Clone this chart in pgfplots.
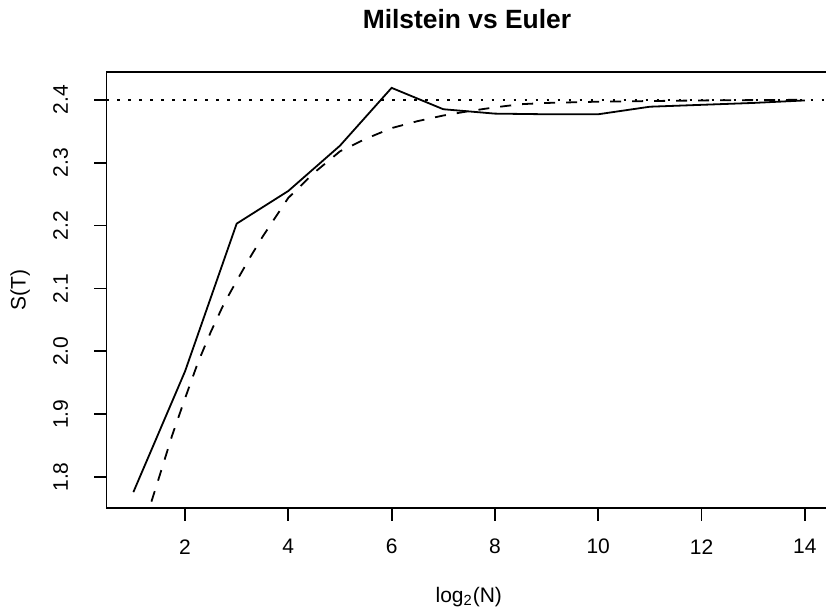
\documentclass[border=0pt]{standalone}
\usepackage{fontspec}
\setmainfont{Liberation Sans}
\usepackage{pgfplots}
\pgfplotsset{compat=1.18}
\begin{document}
\begin{tikzpicture}
\begin{axis}[
  at={(0,0)}, anchor=south west,
  scale only axis, width=359.75bp, height=218.3bp,
  xmin=0.48, xmax=14.41, ymin=1.7503, ymax=2.4447,
  axis x line*=box, axis y line*=left,
  axis line style={-, line width=0.9bp, black},
  every tick/.style={black, line width=0.9bp},
  tick align=outside, major tick length=6.2bp,
  xtick pos=bottom, ytick pos=left,
  xtick={2,4,6,8,10,12,14},
  ytick={1.8,1.9,2.0,2.1,2.2,2.3,2.4},
  yticklabel style={/pgf/number format/fixed, /pgf/number format/precision=1, /pgf/number format/fixed zerofill, rotate=90, anchor=center},
  /pgf/number format/assume math mode=true,
  tick label style={font=\fontsize{10.5bp}{12bp}\selectfont},
  xticklabel style={anchor=center},
  xticklabel shift=13bp, yticklabel shift=16.75bp,
  title={Milstein vs Euler},
  every axis title/.style={font=\fontsize{13.2bp}{15bp}\selectfont\bfseries, at={(axis description cs:0.501,1.0978)}, anchor=base},
  xlabel={log\textsubscript{2}(N)},
  xlabel style={font=\fontsize{10.5bp}{12bp}\selectfont, at={(axis description cs:0.5035,-0.2029)}, anchor=center},
  ylabel={S(T)},
  ylabel style={font=\fontsize{10.5bp}{12bp}\selectfont, at={(axis description cs:-0.12,0.5)}, anchor=center, rotate=0},
  clip=true,
]
% solid series (Milstein)
\addplot[black, line width=0.9bp] coordinates {
 (1,1.776) (2,1.968) (3,2.203) (4,2.255) (5,2.327) (6,2.419) (7,2.385)
 (8,2.378) (9,2.377) (10,2.377) (11,2.389) (12,2.392) (13,2.395) (14,2.399)
};
% dashed series (Euler)
\addplot[black, line width=0.9bp, dash pattern=on 5.5bp off 5.5bp] coordinates {
 (1,1.66) (1.25,1.735) (1.5,1.800) (1.75,1.866) (2,1.925) (2.25,1.982)
 (2.5,2.031) (2.75,2.075) (3,2.112) (3.25,2.148) (3.5,2.182) (3.75,2.213)
 (4,2.244) (4.5,2.284) (5,2.318) (5.5,2.338) (6,2.355) (6.5,2.366)
 (7,2.375) (7.5,2.382) (8,2.388) (8.5,2.393) (9,2.395) (9.5,2.396)
 (10,2.397) (11,2.398) (12,2.399) (13,2.3995) (14,2.400)
};
% reference line
\addplot[black, line width=0.9bp, dash pattern=on 1.2bp off 4.3bp] coordinates {(0.48,2.4) (14.41,2.4)};
\end{axis}
\pgfresetboundingbox
\useasboundingbox (-53.25bp,-51.85bp) rectangle (359.75bp,254.15bp);
\end{tikzpicture}
\end{document}
